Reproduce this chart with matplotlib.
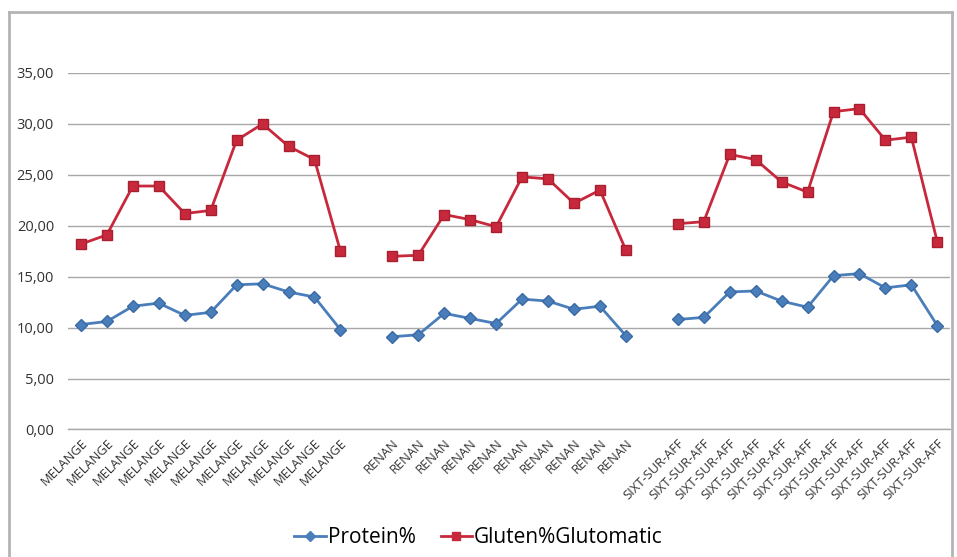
import numpy as np
import matplotlib.pyplot as plt
from matplotlib.lines import Line2D

# categories (blank entries separate the three sites)
categories = (["MELANGE"] * 11 + [""] + ["RENAN"] * 10 + [""] + ["SIXT-SUR-AFF"] * 11)

protein = [10.3, 10.6, 12.1, 12.4, 11.2, 11.5, 14.2, 14.3, 13.5, 13.0, 9.8,
           np.nan,
           9.1, 9.3, 11.4, 10.9, 10.4, 12.8, 12.6, 11.8, 12.1, 9.2,
           np.nan,
           10.8, 11.0, 13.5, 13.6, 12.6, 12.0, 15.1, 15.3, 13.9, 14.2, 10.2]

gluten = [18.2, 19.1, 23.9, 23.9, 21.2, 21.5, 28.4, 30.0, 27.8, 26.5, 17.5,
          np.nan,
          17.0, 17.1, 21.1, 20.6, 19.9, 24.8, 24.6, 22.2, 23.5, 17.6,
          np.nan,
          20.2, 20.4, 27.0, 26.5, 24.3, 23.3, 31.2, 31.5, 28.4, 28.7, 18.4]

yticks = [0, 5, 10, 15, 20, 25, 30, 35]

blue = '#4a7ebb'
red = '#c8283c'

fig = plt.figure(figsize=(9.57, 5.57), dpi=100)
ax = fig.add_axes([0.071, 0.229, 0.922, 0.640])

x = np.arange(len(categories))
ax.plot(x, protein, color=blue, lw=2.0, marker='D', ms=6,
        mfc=blue, mec='#3a6aa5', label='Protein%')
ax.plot(x, gluten, color=red, lw=2.0, marker='s', ms=7.5,
        mfc=red, mec='#a82030', label='Gluten%Glutomatic')

ax.set_xlim(-0.5, len(categories) - 0.5)
ax.set_ylim(0, 35)
ax.set_yticks(yticks)
ax.set_yticklabels(['%d,00' % v for v in yticks], fontsize=10.5,
                   family='Open Sans', color='#333333')
ax.set_xticks(x)
ax.set_xticklabels(categories, rotation=45, ha='right', rotation_mode='anchor',
                   fontsize=9.3, family='Open Sans', color='#333333')
ax.tick_params(axis='x', length=0, pad=5)
ax.tick_params(axis='y', length=0, pad=10)
ax.grid(axis='y', color='#a8a8a8', lw=1)
ax.set_axisbelow(True)
for s in ax.spines.values():
    s.set_visible(False)
ax.spines['bottom'].set_visible(True)
ax.spines['bottom'].set_color('#a8a8a8')
ax.spines['bottom'].set_linewidth(1)

handles = [Line2D([], [], color=blue, lw=2, marker='D', ms=5, mfc=blue),
           Line2D([], [], color=red, lw=2, marker='s', ms=6, mfc=red)]
fig.legend(handles, ['Protein%', 'Gluten%Glutomatic'], loc='center',
           bbox_to_anchor=(0.5, 0.035), ncol=2, frameon=False,
           prop={'family': 'Open Sans', 'size': 15}, handlelength=1.5,
           handletextpad=0.1, columnspacing=1.2)

# chart border
bc = '#b4b4b4'
fig.add_artist(Line2D([0.009, 0.009], [0.0, 0.979], color=bc, lw=2))
fig.add_artist(Line2D([0.009, 0.995], [0.979, 0.979], color=bc, lw=2))
fig.add_artist(Line2D([0.995, 0.995], [0.0, 0.979], color=bc, lw=2))

fig.savefig('out.png', dpi=100)
